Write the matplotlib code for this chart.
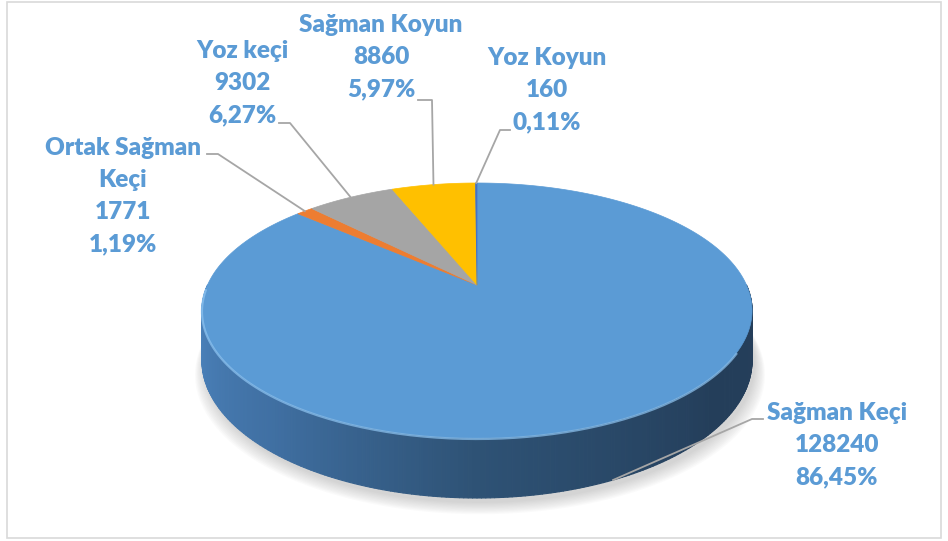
import numpy as np
import matplotlib
matplotlib.use("Agg")
import matplotlib.pyplot as plt
from matplotlib.patches import Polygon, Rectangle
from matplotlib.collections import PolyCollection

# data
adlar = ["Sağman Keçi", "Ortak Sağman\nKeçi", "Yoz keçi", "Sağman Koyun", "Yoz Koyun"]
degerler = [128240, 1771, 9302, 8860, 160]
renkler = ["#5B9BD5", "#ED7D31", "#A5A5A5", "#FFC000", "#4472C4"]

# geometria da pizza (pixels)
cx, cy = 477.0, 285.0
R, B, k = 269.5, 122.4, 0.2
H = 48.0


def proj(ang, drop=0.0):
    t = np.radians(ang)
    c, s = np.cos(t), np.sin(t)
    w = 1 + k * s
    return cx + R * c / w, cy - B * s / w + drop / w


fig = plt.figure(figsize=(9.48, 5.41), dpi=100)
ax = fig.add_axes([0, 0, 1, 1])
ax.set_xlim(0, 948)
ax.set_ylim(541, 0)
ax.axis("off")

ax.add_patch(Rectangle((7, 2), 934, 536, fill=False, edgecolor="#D9D9D9", lw=1.2, zorder=0))

# sombra
angs = np.linspace(0, 360, 361)
for i in range(10):
    pts = [proj(a, H + 4 + i * 0.6) for a in angs]
    pts = [(cx + (x - cx) * (1 + i * 0.004) + 3, y + i * 0.5) for x, y in pts]
    ax.add_patch(Polygon(pts, closed=True, facecolor="#808080", edgecolor="none", alpha=0.035, zorder=1))

# lateral com gradiente
cores_lado = [(180, (78, 135, 194)), (230, (64, 112, 163)), (270, (46, 82, 117)),
              (320, (36, 62, 90)), (360, (37, 62, 90))]


def cor_lado(a):
    xs = [p[0] for p in cores_lado]
    rgb = [np.interp(a, xs, [p[1][j] for p in cores_lado]) / 255 for j in range(3)]
    return tuple(rgb)


passos = np.linspace(180, 360, 241)
quads = []
cores = []
for a0, a1 in zip(passos[:-1], passos[1:]):
    quads.append([proj(a0), proj(a1), proj(a1, H), proj(a0, H)])
    cores.append(cor_lado((a0 + a1) / 2))
ax.add_collection(PolyCollection(quads, facecolors=cores, edgecolors=cores, lw=0.8, zorder=2))

# topo
total = sum(degerler)
inicio = 90.0
medios = []
for v, cor in zip(degerler, renkler):
    fim = inicio - 360.0 * v / total
    arco = np.linspace(inicio, fim, max(int(abs(fim - inicio) * 2), 3))
    pts = [(cx, cy)] + [proj(a) for a in arco]
    ax.add_patch(Polygon(pts, closed=True, facecolor=cor, edgecolor=cor, lw=0.5, zorder=3))
    medios.append((inicio + fim) / 2)
    inicio = fim

# brilho na borda
arco = np.linspace(182, 330, 200)
ax.plot([proj(a)[0] for a in arco], [proj(a)[1] + 1 for a in arco],
        color="#8FC5F2", lw=1.6, alpha=0.7, zorder=4)

# linhas de chamada
cotovelos = [[(752, 419), (763, 419)],
             [(218, 154), (207, 154)],
             [(290, 123), (279, 123)],
             [(432, 100), (418, 100)],
             [(500, 130), (510, 130)]]
for i, a in enumerate(medios):
    if i == 0:
        p = proj(a, H)
    else:
        p = proj(a)
    xs = [p[0]] + [q[0] for q in cotovelos[i]]
    ys = [p[1]] + [q[1] for q in cotovelos[i]]
    ax.plot(xs, ys, color="#A6A6A6", lw=1.3, zorder=5)

# rotulos
pos_rotulos = [(837, 445), (123, 196), (242, 83), (381, 57), (547, 90)]
for nome, v, (x, y) in zip(adlar, degerler, pos_rotulos):
    pct = f"{100.0 * v / total:.2f}".replace(".", ",")
    txt = f"{nome}\n{v}\n{pct}%"
    ax.text(x, y, txt, ha="center", va="center", color="#5B9BD5", fontsize=17.5,
            fontweight="heavy", family="Lato", linespacing=1.55, zorder=6)

plt.savefig("out.png", dpi=100)
